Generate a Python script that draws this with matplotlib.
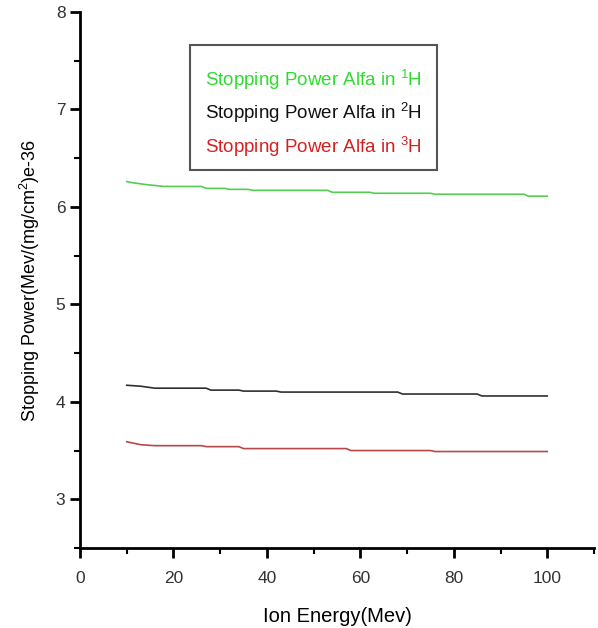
import matplotlib
matplotlib.use("Agg")
import matplotlib.pyplot as plt
from matplotlib.patches import Rectangle
from matplotlib.ticker import MultipleLocator

# Stopping power of alpha particles in hydrogen isotopes (units of MeV/(mg/cm^2) x 1e-36)
energy_h1 = [10, 11, 14, 18, 26, 27, 31, 32, 36, 37, 53, 54, 62, 63, 75, 76, 95, 96, 100]
power_h1 = [6.26, 6.25, 6.23, 6.21, 6.21, 6.19, 6.19, 6.18, 6.18, 6.17, 6.17, 6.15,
            6.15, 6.14, 6.14, 6.13, 6.13, 6.11, 6.11]

energy_h2 = [10, 13, 16, 27, 28, 34, 35, 42, 43, 68, 69, 85, 86, 100]
power_h2 = [4.17, 4.16, 4.14, 4.14, 4.12, 4.12, 4.11, 4.11, 4.10, 4.10, 4.08, 4.08,
            4.06, 4.06]

energy_h3 = [10, 12, 13, 16, 26, 27, 34, 35, 57, 58, 75, 76, 100]
power_h3 = [3.59, 3.57, 3.56, 3.55, 3.55, 3.54, 3.54, 3.52, 3.52, 3.50, 3.50, 3.49, 3.49]

labels = [r"Stopping Power Alfa in $^{1}$H",
          r"Stopping Power Alfa in $^{2}$H",
          r"Stopping Power Alfa in $^{3}$H"]
line_colors = ["#55cc55", "#303030", "#b44a4a"]
text_colors = ["#2edc2e", "#111111", "#d42020"]

plt.rcParams["font.family"] = ["Liberation Sans", "DejaVu Sans"]
plt.rcParams["mathtext.fontset"] = "custom"
plt.rcParams["mathtext.rm"] = "Liberation Sans"

fig = plt.figure(figsize=(5.98, 6.28), dpi=100)
ax = fig.add_axes([80 / 598, 1 - 548 / 628, (594 - 80) / 598, (548 - 12) / 628])

for e, p, c in zip([energy_h1, energy_h2, energy_h3],
                   [power_h1, power_h2, power_h3], line_colors):
    ax.plot(e, p, color=c, lw=1.2)

ax.set_xlim(0, 110)
ax.set_ylim(2.5, 8)
ax.xaxis.set_major_locator(MultipleLocator(20))
ax.xaxis.set_minor_locator(MultipleLocator(10))
ax.yaxis.set_minor_locator(MultipleLocator(0.5))
ax.set_yticks([3, 4, 5, 6, 7, 8])
ax.set_xticks([0, 20, 40, 60, 80, 100])

for side in ("top", "right"):
    ax.spines[side].set_visible(False)
for side in ("left", "bottom"):
    ax.spines[side].set_linewidth(2)

ax.tick_params(which="major", direction="out", length=7, width=2, labelsize=12.5,
               labelcolor="#333333")
ax.tick_params(axis="x", which="major", pad=9.5)
ax.tick_params(which="minor", direction="out", length=4, width=1.5)

ax.set_xlabel("Ion Energy(Mev)", fontsize=14.5, labelpad=15)
ax.set_ylabel(r"Stopping Power(Mev/(mg/cm$^{2}$)e-36", fontsize=13, labelpad=10)

# legend box with coloured entries
ax.add_patch(Rectangle((0.214, 0.7052), 0.4806, 0.2332, transform=ax.transAxes,
                       facecolor="white", edgecolor="#555555", lw=1.5, zorder=3))
for lab, col, yb in zip(labels, text_colors, [0.8619, 0.8004, 0.7369]):
    ax.text(0.2432, yb, lab, transform=ax.transAxes, color=col, fontsize=13.5,
            va="baseline", ha="left", zorder=4)

fig.savefig("out.png", dpi=100)
